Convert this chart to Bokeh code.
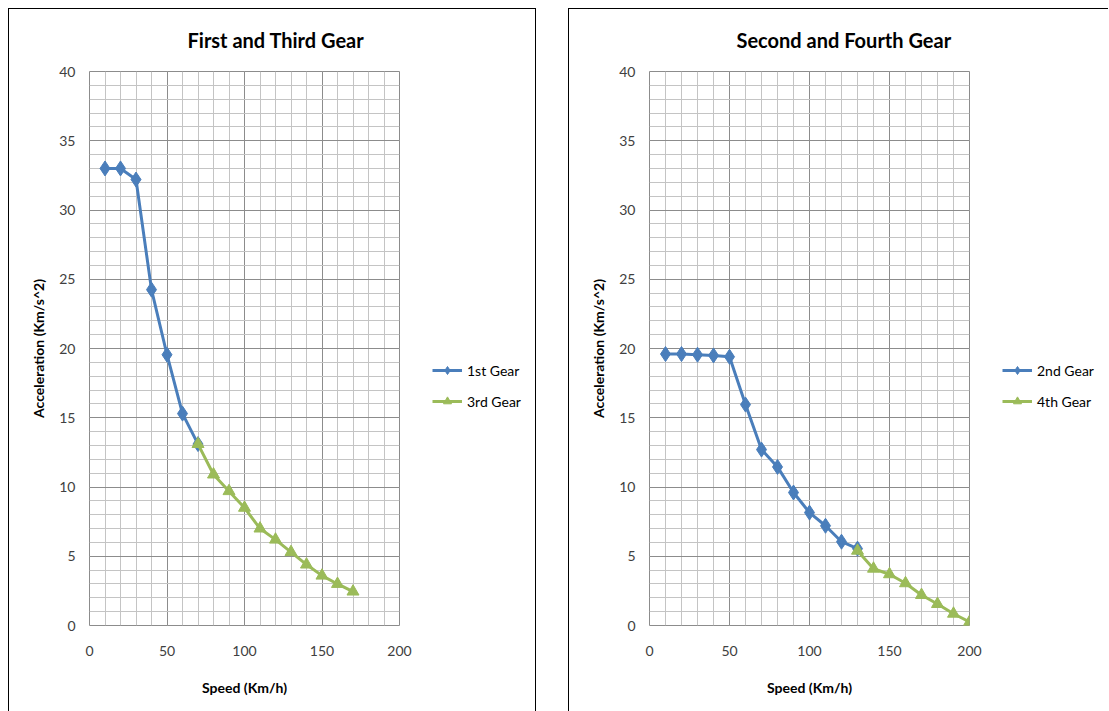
from bokeh.plotting import figure
from bokeh.models import Legend, LegendItem, Range1d, SingleIntervalTicker, Spacer
from bokeh.layouts import row, column
from bokeh.embed import file_html
from bokeh.resources import INLINE

speed_1 = [10, 20, 30, 40, 50, 60, 70]
accel_1 = [33.0, 33.0, 32.2, 24.25, 19.55, 15.3, 13.1]
speed_3 = [70, 80, 90, 100, 110, 120, 130, 140, 150, 160, 170]
accel_3 = [13.1, 10.9, 9.7, 8.5, 7.0, 6.2, 5.3, 4.4, 3.6, 3.0, 2.45]

speed_2 = [10, 20, 30, 40, 50, 60, 70, 80, 90, 100, 110, 120, 130]
accel_2 = [19.6, 19.6, 19.55, 19.5, 19.4, 15.95, 12.7, 11.45, 9.6, 8.15, 7.2, 6.05, 5.55]
speed_4 = [130, 140, 150, 160, 170, 180, 190, 200]
accel_4 = [5.4, 4.1, 3.7, 3.05, 2.2, 1.55, 0.85, 0.25]

titles = ["First and Third Gear", "Second and Fourth Gear"]
labels = [["1st Gear", "3rd Gear"], ["2nd Gear", "4th Gear"]]
x_label = "Speed (Km/h)"
y_label = "Acceleration (Km/s^2)"

BLUE = "#4a7ebb"
GREEN = "#9bbb59"
FONT = "Lato"
H = 703
B = "1px solid #000000"


def make_chart(title, sa, aa, sb, ab, names, frame_w, leg_w, title_offset, right_border):
    main_w = 80 + frame_w + 20
    p = figure(width=main_w, height=H, output_backend="svg", toolbar_location=None,
               x_range=Range1d(0, 200), y_range=Range1d(0, 40),
               min_border_left=80, min_border_right=20,
               min_border_top=62, min_border_bottom=87,
               styles={"border-top": B, "border-left": B, "box-sizing": "border-box"})
    p.title.text = title
    p.title.align = "left"
    p.title.offset = title_offset
    p.title.vertical_align = "top"
    p.title.text_font = FONT
    p.title.text_font_size = "20px"
    p.title.text_font_style = "bold"
    p.title.text_color = "#000000"
    p.title.standoff = 36

    p.xaxis.ticker = SingleIntervalTicker(interval=50, num_minor_ticks=5)
    p.yaxis.ticker = SingleIntervalTicker(interval=5, num_minor_ticks=5)
    for ax in (p.xaxis[0], p.yaxis[0]):
        ax.axis_line_color = None
        ax.major_tick_line_color = None
        ax.minor_tick_line_color = None
        ax.major_tick_out = 0
        ax.major_tick_in = 0
        ax.minor_tick_out = 0
        ax.minor_tick_in = 0
        ax.major_label_text_font = FONT
        ax.major_label_text_font_size = "14px"
        ax.major_label_text_color = "#404040"
        ax.axis_label_text_font = FONT
        ax.axis_label_text_font_size = "14px"
        ax.axis_label_text_font_style = "bold"
        ax.axis_label_text_color = "#000000"
    p.xaxis.axis_label = x_label
    p.yaxis.axis_label = y_label
    p.xaxis.major_label_standoff = 20
    p.xaxis.axis_label_standoff = 20
    p.yaxis.major_label_standoff = 14
    p.yaxis.axis_label_standoff = 9

    for g in (p.xgrid[0], p.ygrid[0]):
        g.grid_line_color = "#8c8c8c"
        g.grid_line_width = 1
        g.minor_grid_line_color = "#c4c4c4"
        g.minor_grid_line_width = 1
    p.outline_line_color = "#8c8c8c"
    p.background_fill_color = "#ffffff"

    p.line(sa, aa, line_color=BLUE, line_width=3)
    p.scatter(sa, aa, marker="diamond", size=15, fill_color=BLUE, line_color=BLUE)
    p.line(sb, ab, line_color=GREEN, line_width=3)
    p.scatter(sb, ab, marker="triangle", size=12, fill_color=GREEN, line_color=GREEN)

    # legend lives in a narrow companion figure so it is not clipped by the main frame;
    # its renderers hold the same series but fall outside that figure's ranges
    leg_styles = {"border-top": B, "box-sizing": "border-box"}
    if right_border:
        leg_styles["border-right"] = B
    q = figure(width=leg_w, height=H, output_backend="svg", toolbar_location=None,
               x_range=Range1d(-2, -1), y_range=Range1d(-2, -1),
               x_axis_type=None, y_axis_type=None,
               min_border_left=0, min_border_right=0, min_border_top=0, min_border_bottom=0,
               styles=leg_styles)
    q.grid.visible = False
    q.outline_line_color = None
    la = q.line(sa, aa, line_color=BLUE, line_width=3)
    ma = q.scatter(sa, aa, marker="diamond", size=10, fill_color=BLUE, line_color=BLUE)
    lb = q.line(sb, ab, line_color=GREEN, line_width=3)
    mb = q.scatter(sb, ab, marker="triangle", size=10, fill_color=GREEN, line_color=GREEN)
    legend = Legend(items=[LegendItem(label=names[0], renderers=[la, ma]),
                           LegendItem(label=names[1], renderers=[lb, mb])],
                    location=(14, 214), orientation="vertical",
                    border_line_color=None, background_fill_alpha=0,
                    padding=0, margin=0, spacing=11,
                    glyph_width=30, glyph_height=20, label_height=20,
                    label_standoff=5, label_text_font=FONT,
                    label_text_font_size="14px", label_text_color="#000000")
    q.add_layout(legend, "center")
    return p, q


p1, q1 = make_chart(titles[0], speed_1, accel_1, speed_3, accel_3, labels[0], 310, 118, 98, True)
p2, q2 = make_chart(titles[1], speed_2, accel_2, speed_4, accel_4, labels[1], 320, 120, 87, False)

layout = column(Spacer(width=1100, height=8),
                row(Spacer(width=8, height=H), p1, q1, Spacer(width=32, height=H), p2, q2,
                    spacing=0),
                spacing=0)

open("out.html", "w").write(file_html(layout, INLINE))
